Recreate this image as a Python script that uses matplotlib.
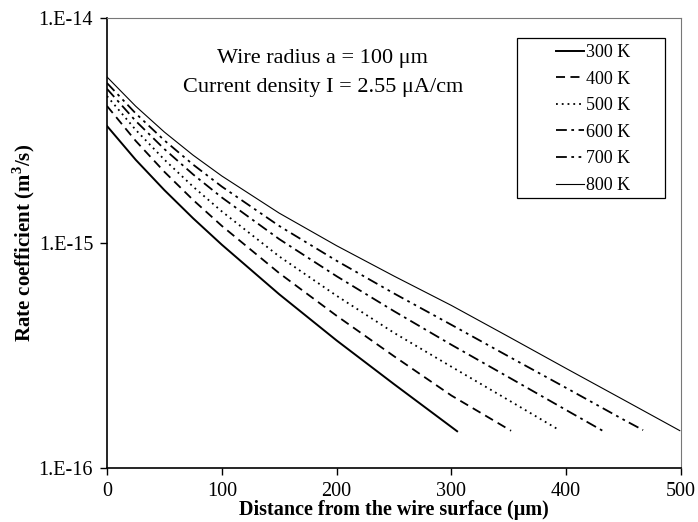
import math

import matplotlib
matplotlib.use("Agg")
import matplotlib.pyplot as plt
from matplotlib.patches import Rectangle
from matplotlib.ticker import FixedLocator, FuncFormatter, NullLocator

plt.rcParams['font.family'] = ['Liberation Serif', 'DejaVu Serif']
plt.rcParams['mathtext.fontset'] = 'custom'
plt.rcParams['mathtext.rm'] = 'Liberation Serif'
plt.rcParams['mathtext.bf'] = 'Liberation Serif:bold'

# distance from wire surface (um) and rate coefficient (m^3/s) per temperature
x_300 = [0, 25, 50, 75, 100, 150, 200, 250, 305]
k_300 = [3.311e-15, 2.344e-15, 1.718e-15, 1.288e-15, 9.83e-16, 5.92e-16, 3.69e-16, 2.36e-16, 1.457e-16]

x_400 = [0, 25, 50, 75, 100, 150, 200, 250, 300, 352]
k_400 = [4.064e-15, 2.844e-15, 2.072e-15, 1.554e-15, 1.192e-15, 7.35e-16, 4.75e-16, 3.14e-16,
         2.10e-16, 1.464e-16]

x_500 = [0, 25, 50, 75, 100, 150, 200, 250, 300, 350, 394]
k_500 = [4.498e-15, 3.184e-15, 2.346e-15, 1.780e-15, 1.382e-15, 8.72e-16, 5.83e-16, 3.99e-16,
         2.82e-16, 2.00e-16, 1.474e-16]

x_600 = [0, 25, 50, 75, 100, 150, 200, 250, 300, 350, 400, 432]
k_600 = [4.842e-15, 3.487e-15, 2.615e-15, 2.018e-15, 1.594e-15, 1.041e-15, 7.12e-16, 4.98e-16,
         3.53e-16, 2.53e-16, 1.81e-16, 1.462e-16]

x_700 = [0, 25, 50, 75, 100, 150, 200, 250, 300, 350, 400, 450, 467]
k_700 = [5.140e-15, 3.767e-15, 2.858e-15, 2.231e-15, 1.782e-15, 1.191e-15, 8.34e-16, 5.97e-16,
         4.33e-16, 3.13e-16, 2.27e-16, 1.64e-16, 1.474e-16]

x_800 = [0, 25, 50, 75, 100, 150, 200, 250, 300, 350, 400, 450, 499]
k_800 = [5.470e-15, 4.055e-15, 3.112e-15, 2.457e-15, 1.986e-15, 1.358e-15, 9.73e-16, 7.13e-16,
         5.28e-16, 3.83e-16, 2.77e-16, 2.01e-16, 1.466e-16]

labels = ["300 K", "400 K", "500 K", "600 K", "700 K", "800 K"]
x_ticks = [0, 100, 200, 300, 400, 500]
y_ticks = [1e-16, 1e-15, 1e-14]

series = [(x_300, k_300), (x_400, k_400), (x_500, k_500),
          (x_600, k_600), (x_700, k_700), (x_800, k_800)]
styles = [dict(ls="-", lw=1.4),
          dict(ls=(0, (5, 3)), lw=1.3),
          dict(ls=(0, (1, 2.2)), lw=1.3),
          dict(ls=(0, (6, 2.5, 1.5, 2.5)), lw=1.3),
          dict(ls=(0, (6, 2.5, 1.5, 2.5, 1.5, 2.5)), lw=1.3),
          dict(ls="-", lw=0.8)]

fig = plt.figure(figsize=(6.98, 5.22), dpi=100)
ax = fig.add_axes([0.1533, 0.1034, 0.8223, 0.8621])

handles = []
for (xs, ks), st, lab in zip(series, styles, labels):
    h, = ax.plot(xs, ks, color="black", label=lab, **st)
    handles.append(h)

ax.set_yscale("log")
ax.set_xlim(0, 500)
ax.set_ylim(1e-16, 1e-14)
ax.xaxis.set_major_locator(FixedLocator(x_ticks))
ax.yaxis.set_major_locator(FixedLocator(y_ticks))
ax.yaxis.set_minor_locator(NullLocator())
ax.yaxis.set_major_formatter(FuncFormatter(lambda v, p: "1.E%d" % round(math.log10(v))))
ax.tick_params(direction="out", length=5, width=1, labelsize=14.5, pad=5)

for side in ("left", "bottom"):
    ax.spines[side].set_linewidth(1.2)
for side in ("top", "right"):
    ax.spines[side].set_linewidth(0.8)
    ax.spines[side].set_color("#777777")

ax.set_xlabel("Distance from the wire surface (\u03bcm)", fontsize=14.5, fontweight="bold")
ax.xaxis.set_label_coords(0.5, -0.072)
ax.set_ylabel("Rate coefficient (m$^{\\mathbf{3}}$/s)", fontsize=15, fontweight="bold")
ax.yaxis.set_label_coords(-0.122, 0.5)

ax.text(0.376, 0.911, "Wire radius a = 100 \u03bcm", transform=ax.transAxes,
        ha="center", va="center", fontsize=16)
ax.text(0.376, 0.846, "Current density I = 2.55 \u03bcA/cm", transform=ax.transAxes,
        ha="center", va="center", fontsize=16)

# legend box drawn separately so entries sit centred inside it
box = Rectangle((0.714, 0.6), 0.258, 0.356, transform=ax.transAxes,
                fill=False, edgecolor="black", lw=0.9, zorder=3)
ax.add_patch(box)
ax.legend(handles=handles, loc="center", bbox_to_anchor=(0.847, 0.7756),
          frameon=False, fontsize=13, handlelength=1.55, handletextpad=0.15,
          labelspacing=0.53, borderpad=0)

fig.savefig("out.png", dpi=100)
